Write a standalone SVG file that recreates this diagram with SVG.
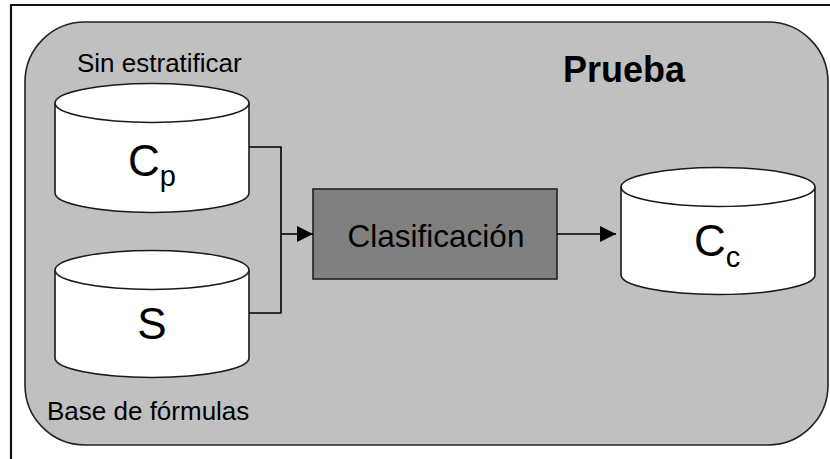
<svg xmlns="http://www.w3.org/2000/svg" width="830" height="459" viewBox="0 0 830 459">
<style>
text{font-family:"Liberation Sans",Arial,sans-serif;fill:#000}
.cyl{fill:#fff;stroke:#1a1a1a;stroke-width:1.6}
.lbl{font-size:26px}
.big{font-size:44px}
.sub{font-size:29px}
.conn{fill:none;stroke:#000;stroke-width:1.6}
</style>
<defs>
<marker id="ah" viewBox="0 0 10 10" refX="10" refY="5" markerWidth="16" markerHeight="16" markerUnits="userSpaceOnUse" orient="auto">
<path d="M0,0 L10,5 L0,10 z" fill="#000"/>
</marker>
</defs>
<rect width="830" height="459" fill="#fff"/>
<path d="M11,459 V5 H830" fill="none" stroke="#111" stroke-width="2.2"/>
<g id="prueba">
<rect x="25" y="22" width="803" height="423" rx="60" ry="60" fill="#c0c0c0" stroke="#222" stroke-width="1.6"/>
<text x="563" y="82" font-size="36" font-weight="bold">Prueba</text>
</g>
<g id="cp">
<text class="lbl" x="77" y="72">Sin estratificar</text>
<path class="cyl" d="M55,103 V193 A97,19.5 0 0 0 249,193 V103"/>
<ellipse class="cyl" cx="152" cy="103" rx="97" ry="19.5"/>
<text x="128" y="176"><tspan class="big">C</tspan><tspan class="sub" dy="10">p</tspan></text>
</g>
<g id="s">
<path class="cyl" d="M55,270 V358 A97,19.5 0 0 0 249,358 V270"/>
<ellipse class="cyl" cx="152" cy="270" rx="97" ry="19.5"/>
<text class="big" x="152" y="339" text-anchor="middle">S</text>
<text class="lbl" x="47" y="420">Base de fórmulas</text>
</g>
<g id="clasificacion">
<rect x="313" y="189" width="244" height="90" fill="#808080" stroke="#222" stroke-width="1.6"/>
<text x="436" y="247" font-size="31.5" text-anchor="middle">Clasificación</text>
</g>
<g id="cc">
<path class="cyl" d="M621,187 V275 A97,19.5 0 0 0 815,275 V187"/>
<ellipse class="cyl" cx="718" cy="187" rx="97" ry="19.5"/>
<text x="694" y="256"><tspan class="big">C</tspan><tspan class="sub" dy="11">c</tspan></text>
</g>
<g id="connectors">
<path class="conn" d="M249,147 H281 V313 H249"/>
<path class="conn" d="M281,234 H313" marker-end="url(#ah)"/>
<path class="conn" d="M557,234 H616" marker-end="url(#ah)"/>
</g>
</svg>
